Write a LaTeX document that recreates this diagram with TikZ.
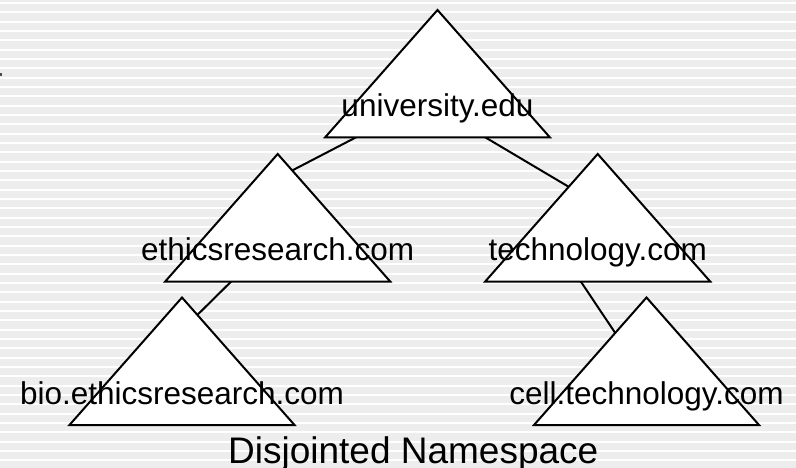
\documentclass[tikz,border=0pt]{standalone}
\usepackage{fontspec}
\setmainfont{Liberation Sans}
\usetikzlibrary{calc,shapes.geometric}
\definecolor{NSGray}{HTML}{EDEDED}
\pgfdeclarelayer{stripes}
\pgfdeclarelayer{links}
\pgfsetlayers{stripes,links,main}

\begin{document}
\begin{tikzpicture}[
    x=1pt,y=1pt,
    tri/.style={draw=black,line width=2pt,fill=white,isosceles triangle,isosceles triangle stretches,shape border rotate=90,minimum width=225pt,minimum height=127.5pt,inner sep=0pt,outer sep=0pt,anchor=apex},
    dname/.style={font=\fontsize{31.5}{36}\selectfont,anchor=base,inner sep=0pt},
    link/.style={line width=2pt,color=black},
    stripe/.style={white,line width=2pt}
  ]
    \useasboundingbox (0,0) rectangle (796,-468);
    \begin{pgfonlayer}{stripes}
      \fill[NSGray] (0,0) rectangle (796,-468);
      \foreach \i in {0,...,50}
        \draw[stripe] (0,{-3-9.33*\i}) -- (796,{-3-9.33*\i});
      \fill[black!70] (0,-73) rectangle (1.5,-76);
    \end{pgfonlayer}
    % the domain trees
    \node[tri] (uni) at (437.5,-10) {};
    \node[tri] (ethics) at (277.7,-154) {};
    \node[tri] (tech) at (597.7,-154) {};
    \node[tri] (bio) at (182,-297.5) {};
    \node[tri] (cell) at (646.5,-297.5) {};
    \foreach \t/\txt in {uni/university.edu,ethics/ethicsresearch.com,tech/technology.com,bio/bio.ethicsresearch.com,cell/cell.technology.com}
      \node[dname] (\t-txt) at ($(\t.apex)+(0,-107)$) {\txt};
    \begin{pgfonlayer}{links}
      \draw[link] ($(uni.apex)+(0,-85)$) -- ($(ethics.apex)+(0,-24)$);
      \draw[link] ($(uni.apex)+(0,-99)$) -- ($(tech.apex)+(0,-50)$);
      \draw[link] ($(ethics.apex)+(0,-81.6)$) -- ($(bio.apex)+(0,-32.6)$);
      \draw[link] ($(tech.apex)+(-44.7,-86)$) -- ($(cell.apex)+(0,-82.2)$);
    \end{pgfonlayer}
    \node[font=\fontsize{37}{44}\selectfont,anchor=base,inner sep=0pt] (title) at (413.3,-463.3) {Disjointed Namespace};
  \end{tikzpicture}
\end{document}
